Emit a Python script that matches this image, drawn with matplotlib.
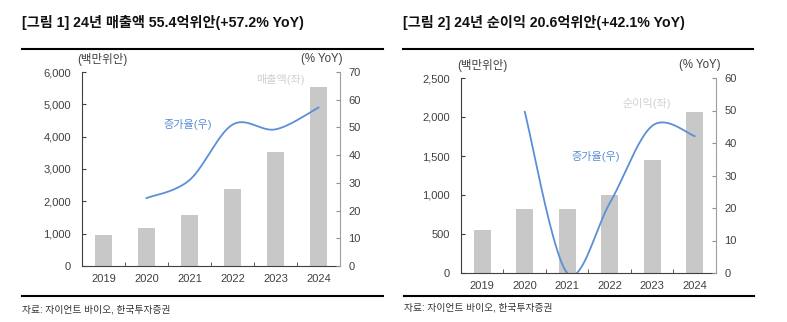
import numpy as np
import matplotlib
matplotlib.use("Agg")
import matplotlib.pyplot as plt
from matplotlib.lines import Line2D

plt.rcParams['font.family'] = ['Liberation Sans', 'Noto Sans CJK KR', 'DejaVu Sans']

years = ['2019', '2020', '2021', '2022', '2023', '2024']
revenue = [960, 1190, 1570, 2370, 3540, 5540]
rev_growth = [np.nan, 24.5, 31.0, 51.0, 49.3, 57.2]
net_income = [550, 823, 823, 1000, 1450, 2060]
ni_growth = [np.nan, 49.6, 0.0, 21.5, 45.3, 42.1]

BAR = '#c8c8c8'
LINE = '#5b8fd6'
TXT = '#404040'


def smooth(x, y, sx, sy, n=40):
    # excel style smoothed line (bezier through the points, tension 1/6)
    px = np.asarray(x, float) * sx
    py = np.asarray(y, float) * sy
    pts = np.column_stack([px, py])
    out = []
    for i in range(len(pts) - 1):
        p0 = pts[max(i - 1, 0)]
        p1 = pts[i]
        p2 = pts[i + 1]
        p3 = pts[min(i + 2, len(pts) - 1)]
        c1 = p1 + (p2 - p0) / 6
        c2 = p2 - (p3 - p1) / 6
        t = np.linspace(0, 1, n)[:, None]
        seg = (1 - t) ** 3 * p1 + 3 * (1 - t) ** 2 * t * c1 + 3 * (1 - t) * t ** 2 * c2 + t ** 3 * p2
        out.append(seg)
    out = np.vstack(out)
    return out[:, 0] / sx, out[:, 1] / sy


def panel(fig, rect, bars, growth, lmax, lstep, rmax, rstep, bar_label, bar_xy, g_xy):
    ax = fig.add_axes(rect)
    x = np.arange(len(years))
    ax.bar(x, bars, width=0.41, color=BAR, zorder=1)
    ax.set_xlim(-0.5, len(years) - 0.5)
    ax.set_ylim(0, lmax)
    ax.set_yticks(np.arange(0, lmax + 1, lstep))
    ax.set_yticklabels([f'{v:,}' for v in np.arange(0, lmax + 1, lstep)])
    ax.set_xticks(x)
    ax.set_xticklabels(years)
    ax.set_xticks(np.arange(0.5, len(years) - 1, 1), minor=True)
    ax.tick_params(axis='x', which='major', length=0, labelsize=8, colors=TXT, pad=6)
    ax.tick_params(axis='x', which='minor', direction='in', length=3, color='#404040')
    ax.tick_params(axis='y', direction='in', length=3, labelsize=8, colors=TXT, pad=8)
    ax.spines['top'].set_visible(False)
    ax.spines['right'].set_visible(False)
    ax.spines['left'].set_color('#404040')
    ax.spines['bottom'].set_color('#404040')

    ax2 = ax.twinx()
    ax2.set_ylim(0, rmax)
    ax2.set_yticks(np.arange(0, rmax + 1, rstep))
    ax2.tick_params(axis='y', direction='in', length=3, labelsize=8, colors=TXT, pad=6, color='#909090')
    for s in ['top', 'left', 'bottom']:
        ax2.spines[s].set_visible(False)
    ax2.spines['right'].set_color('#a0a0a0')
    g = np.asarray(growth, float)
    ok = ~np.isnan(g)
    bw = fig.get_figwidth() * rect[2]
    bh = fig.get_figheight() * rect[3]
    sx = bw / len(years)
    sy = bh / rmax
    lx, ly = smooth(x[ok], g[ok], sx, sy)
    ax2.plot(lx, ly, color=LINE, lw=1.3, zorder=3)
    ax.set_zorder(ax2.get_zorder() - 1)
    ax.patch.set_visible(False)

    ax2.text(bar_xy[0], bar_xy[1], bar_label, transform=ax2.transAxes, color='#d0d0d0',
             fontsize=8, ha='center', va='center')
    ax2.text(g_xy[0], g_xy[1], '증가율(우)', transform=ax2.transAxes, color=LINE,
             fontsize=8, ha='center', va='center')
    return ax, ax2


W, H = 787, 322
fig = plt.figure(figsize=(W / 100, H / 100), dpi=100)


def fx(px):
    return px / W


def fy(py):
    return 1 - py / H


# left panel
panel(fig, [fx(82), fy(266), fx(340 - 82), (266 - 72) / H], revenue, rev_growth,
      6000, 1000, 70, 10, '매출액(좌)', (0.77, 0.96), (0.41, 0.73))
# right panel
panel(fig, [fx(461), fy(273), fx(716 - 461), (273 - 78) / H], net_income, ni_growth,
      2500, 500, 60, 10, '순이익(좌)', (0.73, 0.87), (0.53, 0.6))

# titles
fig.text(fx(22), fy(23), '[그림 1] 24년 매출액 55.4억위안(+57.2% YoY)', fontsize=10.2,
         fontweight='bold', ha='left', va='center', color='#111111')
fig.text(fx(403), fy(23), '[그림 2] 24년 순이익 20.6억위안(+42.1% YoY)', fontsize=10.2,
         fontweight='bold', ha='left', va='center', color='#111111')

# unit labels
for x0, y0, t in [(102, 59, '(백만위안)'), (322, 59, '(% YoY)'),
                  (482, 65, '(백만위안)'), (700, 65, '(% YoY)')]:
    fig.text(fx(x0), fy(y0), t, fontsize=8.3, ha='center', va='center', color=TXT)

# rules
for x0, x1, y0 in [(22, 383, 49), (403, 753, 49), (22, 383, 296), (404, 754, 296)]:
    fig.add_artist(Line2D([fx(x0), fx(x1)], [fy(y0), fy(y0)], color='black', lw=1.5,
                          transform=fig.transFigure))

# source
fig.text(fx(22), fy(309), '자료: 자이언트 바이오, 한국투자증권', fontsize=7, ha='left', va='center', color='#333333')
fig.text(fx(404), fy(308), '자료: 자이언트 바이오, 한국투자증권', fontsize=7, ha='left', va='center', color='#333333')

fig.savefig('out.png', dpi=100)
